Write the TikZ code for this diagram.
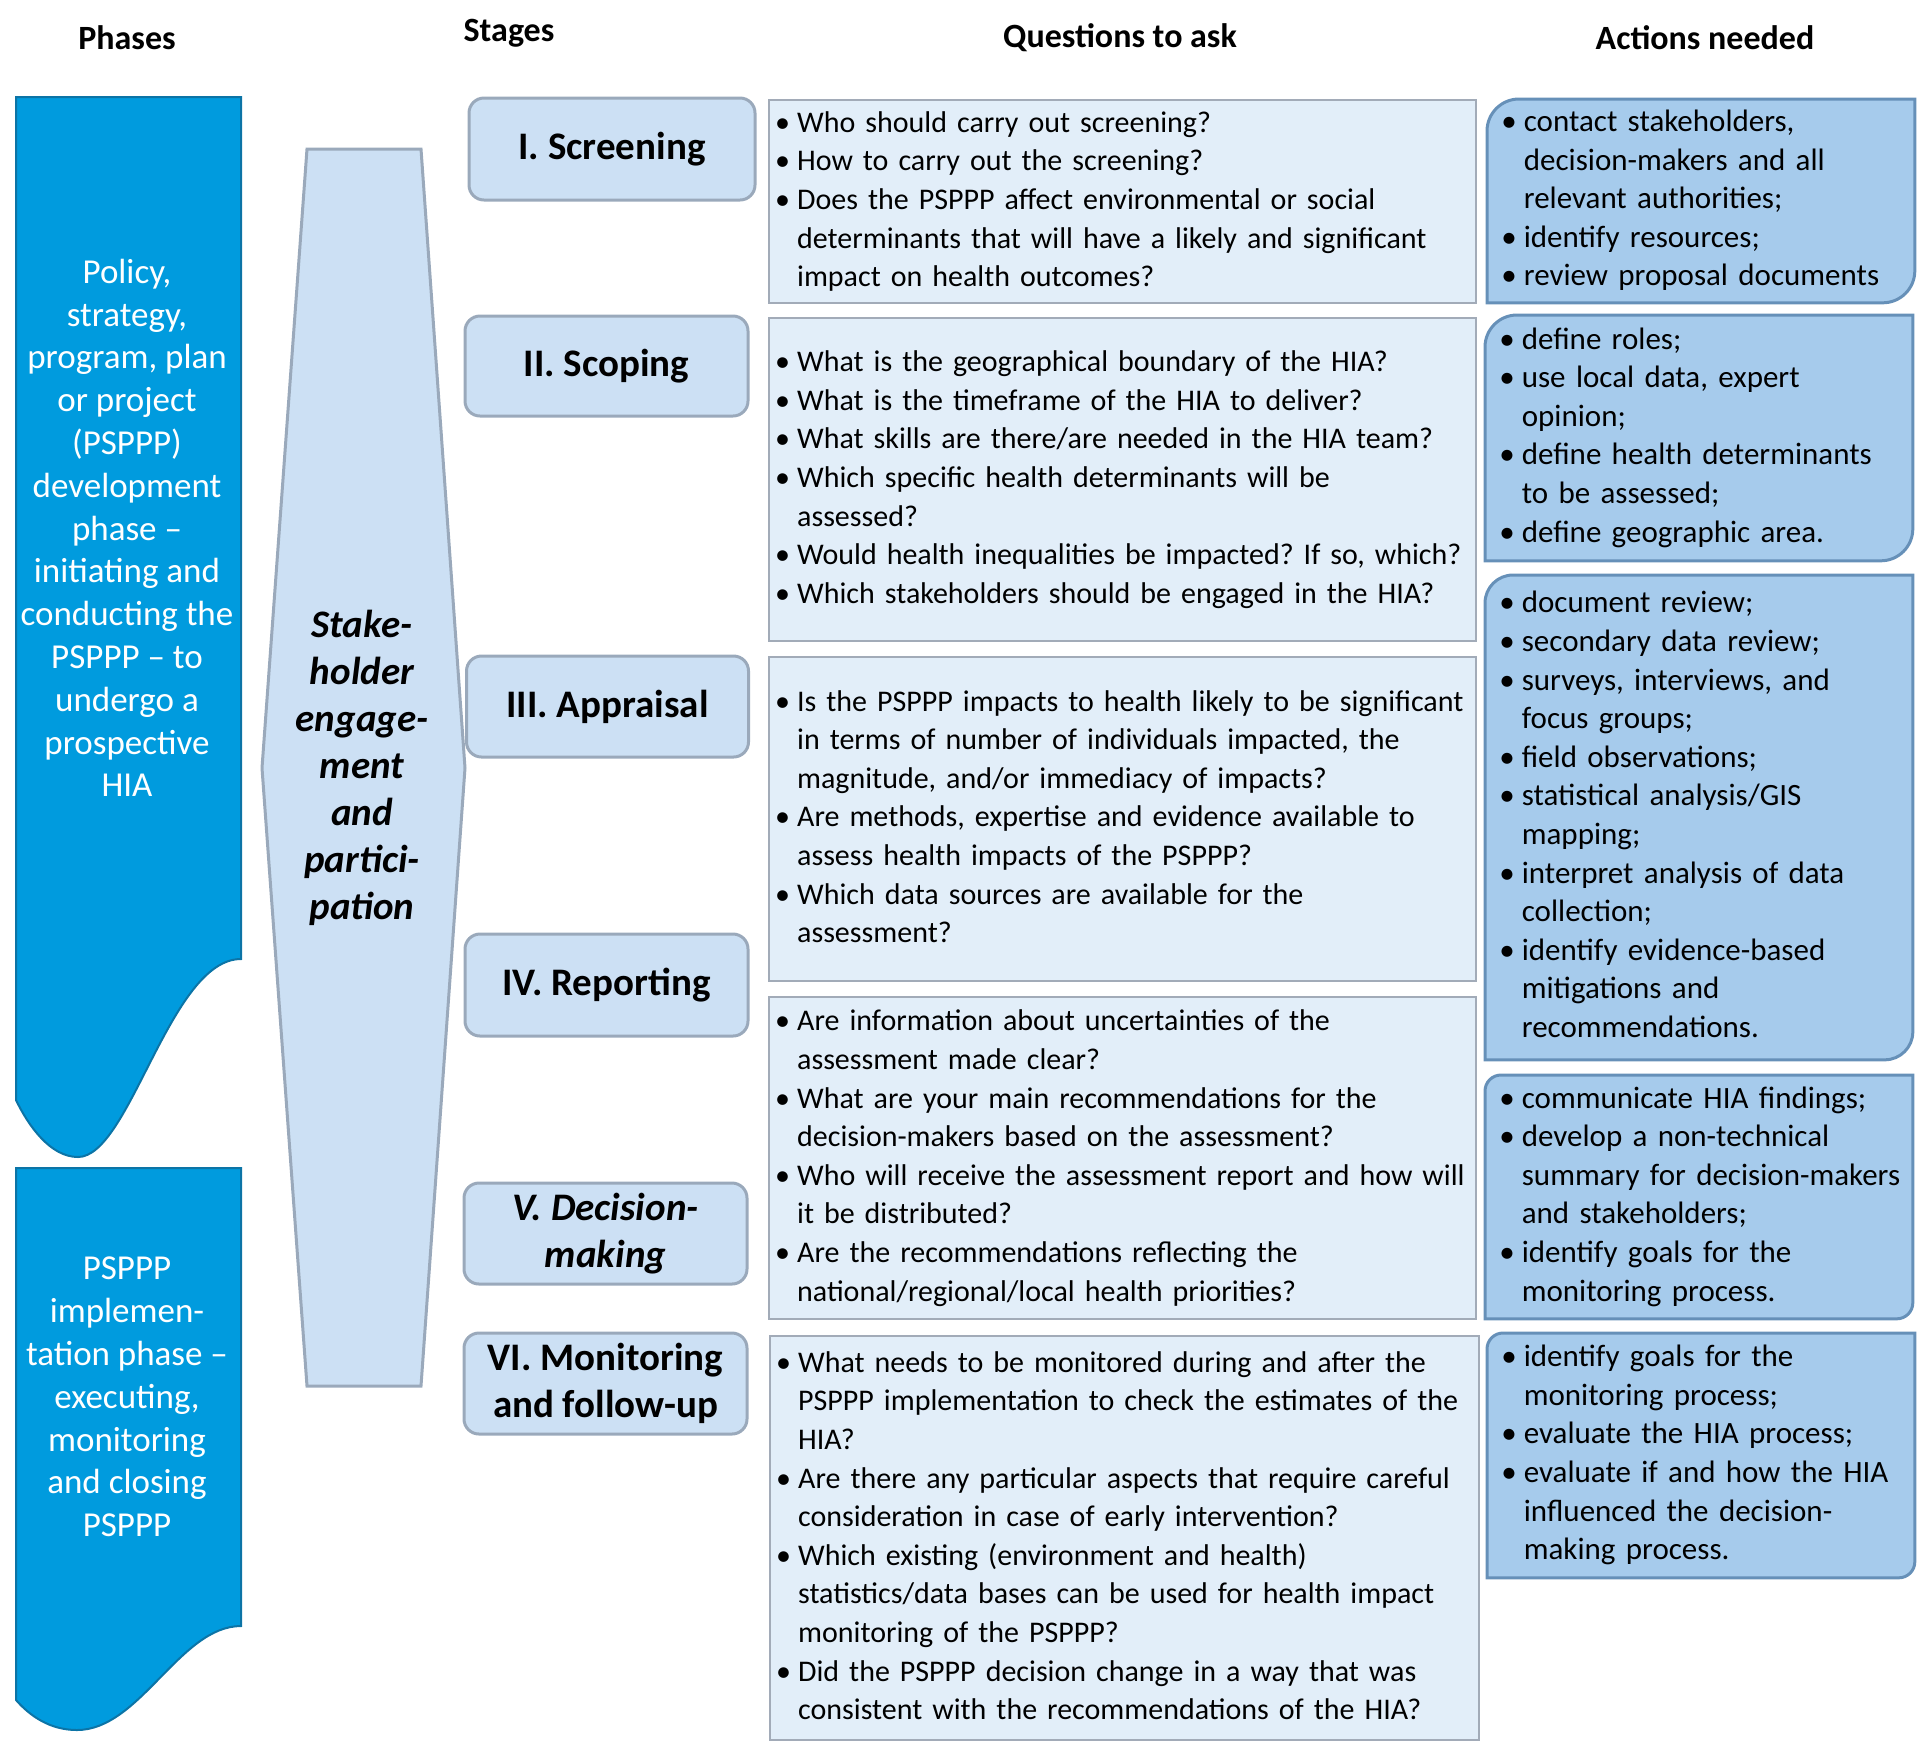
\documentclass[tikz,border=0pt]{standalone}
\usepackage{fontspec}
\setmainfont{Carlito}
\usetikzlibrary{backgrounds}
\frenchspacing

\definecolor{phaseblue}{RGB}{0,155,222}
\definecolor{phaseline}{RGB}{12,116,166}
\definecolor{stagefill}{RGB}{204,224,244}
\definecolor{stageline}{RGB}{154,169,187}
\definecolor{qfill}{RGB}{226,238,249}
\definecolor{qline}{RGB}{162,171,184}
\definecolor{actfill}{RGB}{166,203,236}
\definecolor{actline}{RGB}{102,144,184}

\newcommand{\bu}{\textbullet}
\newcommand{\blist}[1]{\begin{tabular}{@{}l@{\hspace{3.5pt}}l@{}}#1\end{tabular}}
% frame with round top left and bottom right corners
\newcommand{\actframe}[2]{\draw[actshape] (#1.south west) -- ([yshift=-#2]#1.north west) arc[start angle=180, end angle=90, radius=#2] -- (#1.north east) -- ([yshift=#2]#1.south east) arc[start angle=0, end angle=-90, radius=#2] -- cycle;}

\tikzset{
	head/.style={font=\bfseries\fontsize{17}{19}\selectfont},
	phaseshape/.style={fill=phaseblue, draw=phaseline, line width=1pt},
	phasetext/.style={text=white, align=center, font=\fontsize{17.5}{21.4}\selectfont},
	stakeshape/.style={fill=stagefill, draw=stageline, line width=1.5pt},
	stagebox/.style={rectangle, rounded corners=7.5pt, fill=stagefill, draw=stageline, line width=1.5pt, align=center, font=\bfseries\fontsize{19.5}{23.2}\selectfont},
	qbox/.style={rectangle, anchor=north west, fill=qfill, draw=qline, line width=1.2pt, inner xsep=3pt, inner ysep=0pt, text width=347.5pt, align=left, font=\fontsize{15}{19.3}\selectfont},
	acttext/.style={rectangle, anchor=north west, inner xsep=7pt, inner ysep=0pt, text width=199.5pt, align=left, font=\fontsize{15.5}{19.3}\selectfont},
	actshape/.style={fill=actfill, draw=actline, line width=1.5pt}
}

\begin{document}
\begin{tikzpicture}[x=0.5pt, y=-0.5pt]
		\useasboundingbox (0,0) rectangle (1920,1747);
		
		% Headers
		\node[head] (hphase) at (127,38) {Phases};
		\node[head] (hstage) at (509,33) {Stages};
		\node[head] (hquest) at (1120,38) {Questions to ask};
		\node[head] (hact) at (1705,38) {Actions needed};
		
		% Phases
		\draw[phaseshape] (16,97) -- (241,97) -- (241,959) .. controls (170,959) and (130,1157) .. (78,1157) .. controls (50,1157) and (28,1125) .. (16,1100) -- cycle;
		\draw[phaseshape] (16,1168) -- (241,1168) -- (241,1626) .. controls (180,1626) and (140,1730) .. (77,1730) .. controls (50,1730) and (30,1716) .. (16,1700) -- cycle;
		\node[phasetext] (phaseone) at (127,528) {Policy,\\strategy,\\program, plan\\or project\\(PSPPP)\\development\\phase --\\initiating and\\conducting the\\PSPPP -- to\\undergo a\\prospective\\HIA};
		\node[phasetext] (phasetwo) at (127,1397) {PSPPP\\implemen-\\tation phase --\\executing,\\monitoring\\and closing\\PSPPP};
		
		% Stakeholders
		\draw[stakeshape] (307,149) -- (421,149) -- (465,768) -- (421,1386) -- (307,1386) -- (262,768) -- cycle;
		\node[align=center, font=\bfseries\itshape\fontsize{19.5}{23.5}\selectfont] (stake) at (362,768) {Stake-\\holder\\engage-\\ment\\and\\partici-\\pation};
		
		% Stages
		\node[stagebox, minimum width=143pt, minimum height=51pt] (screen) at (612,149) {I. Screening};
		\node[stagebox, minimum width=141.5pt, minimum height=50pt] (scope) at (606.5,366) {II. Scoping};
		\node[stagebox, minimum width=141pt, minimum height=50.5pt] (apprais) at (607.5,706.5) {III. Appraisal};
		\node[stagebox, minimum width=141.5pt, minimum height=51pt] (report) at (606.5,985) {IV. Reporting};
		\node[stagebox, minimum width=141.5pt, minimum height=50.5pt, font=\bfseries\itshape\fontsize{19.5}{23.2}\selectfont] (decide) at (605.5,1233.5) {V. Decision-\\making};
		\node[stagebox, minimum width=141.5pt, minimum height=50.5pt] (monitor) at (605.5,1383.5) {VI. Monitoring\\and follow-up};
		
		% Questions
		\node[qbox, minimum height=101.5pt] (qscreen) at (768,99) {\blist{
			\bu & Who should carry out screening?\\
			\bu & How to carry out the screening?\\
			\bu & Does the PSPPP affect environmental or social\\
			& determinants that will have a likely and significant\\
			& impact on health outcomes?}};
		\node[qbox, minimum height=161.5pt] (qscope) at (768,317) {\blist{
			\bu & What is the geographical boundary of the HIA?\\
			\bu & What is the timeframe of the HIA to deliver?\\
			\bu & What skills are there/are needed in the HIA team?\\
			\bu & Which specific health determinants will be\\
			& assessed?\\
			\bu & Would health inequalities be impacted? If so, which?\\
			\bu & Which stakeholders should be engaged in the HIA?}};
		\node[qbox, minimum height=162pt] (qapprais) at (768,656) {\blist{
			\bu & Is the PSPPP impacts to health likely to be significant\\
			& in terms of number of individuals impacted, the\\
			& magnitude, and/or immediacy of impacts?\\
			\bu & Are methods, expertise and evidence available to\\
			& assess health impacts of the PSPPP?\\
			\bu & Which data sources are available for the\\
			& assessment?}};
		\node[qbox, minimum height=161pt] (qreport) at (768,996) {\blist{
			\bu & Are information about uncertainties of the\\
			& assessment made clear?\\
			\bu & What are your main recommendations for the\\
			& decision-makers based on the assessment?\\
			\bu & Who will receive the assessment report and how will\\
			& it be distributed?\\
			\bu & Are the recommendations reflecting the\\
			& national/regional/local health priorities?}};
		\node[qbox, minimum height=202pt, text width=348.5pt] (qmonitor) at (769,1335) {\blist{
			\bu & What needs to be monitored during and after the\\
			& PSPPP implementation to check the estimates of the\\
			& HIA?\\
			\bu & Are there any particular aspects that require careful\\
			& consideration in case of early intervention?\\
			\bu & Which existing (environment and health)\\
			& statistics/data bases can be used for health impact\\
			& monitoring of the PSPPP?\\
			\bu & Did the PSPPP decision change in a way that was\\
			& consistent with the recommendations of the HIA?}};
		
		% Actions
		\node[acttext, minimum height=101.5pt] (ascreen) at (1487,99) {\blist{
			\bu & contact stakeholders,\\
			& decision-makers and all\\
			& relevant authorities;\\
			\bu & identify resources;\\
			\bu & review proposal documents}};
		\node[acttext, minimum height=122.5pt] (ascope) at (1485,315) {\blist{
			\bu & define roles;\\
			\bu & use local data, expert\\
			& opinion;\\
			\bu & define health determinants\\
			& to be assessed;\\
			\bu & define geographic area.}};
		\node[acttext, minimum height=242pt] (aapprais) at (1485,575) {\blist{
			\bu & document review;\\
			\bu & secondary data review;\\
			\bu & surveys, interviews, and\\
			& focus groups;\\
			\bu & field observations;\\
			\bu & statistical analysis/GIS\\
			& mapping;\\
			\bu & interpret analysis of data\\
			& collection;\\
			\bu & identify evidence-based\\
			& mitigations and\\
			& recommendations.}};
		\node[acttext, minimum height=121.5pt] (areport) at (1485,1075) {\blist{
			\bu & communicate HIA findings;\\
			\bu & develop a non-technical\\
			& summary for decision-makers\\
			& and stakeholders;\\
			\bu & identify goals for the\\
			& monitoring process.}};
		\node[acttext, minimum height=122pt] (amonitor) at (1487,1333) {\blist{
			\bu & identify goals for the\\
			& monitoring process;\\
			\bu & evaluate the HIA process;\\
			\bu & evaluate if and how the HIA\\
			& influenced the decision-\\
			& making process.}};
		
		\begin{scope}[on background layer]
			\actframe{ascreen}{16pt}
			\actframe{ascope}{16pt}
			\actframe{aapprais}{14pt}
			\actframe{areport}{8pt}
			\actframe{amonitor}{8pt}
		\end{scope}
		
\end{tikzpicture}
\end{document}
